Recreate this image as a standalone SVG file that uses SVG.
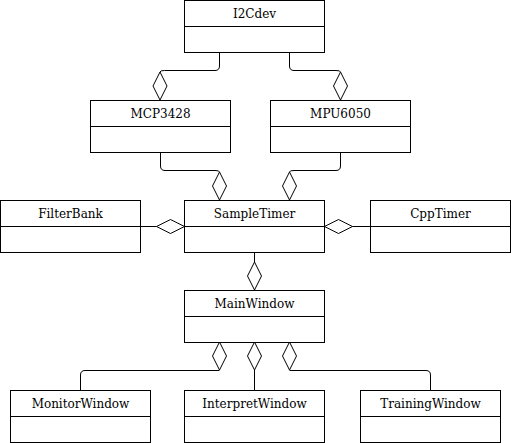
<svg xmlns="http://www.w3.org/2000/svg" width="511" height="443" viewBox="0 0 511 443">
<style>
rect{fill:#fff;stroke:#000;stroke-width:1}
.d{stroke:#000;stroke-width:1}
text{font-family:"DejaVu Serif",serif;font-size:12px;text-anchor:middle;fill:#000}
.c path{fill:none;stroke:#000;stroke-width:1}
.c path.dm{fill:#fff}
</style>
<rect x="0" y="0" width="511" height="443" style="stroke:none"/>
<g class="c" id="connectors">
<path d="M219.5 52V66Q219.5 70.5 215 70.5H164.5Q160 70.5 160 72"/>
<path class="dm" d="M160 72L167 86L160 100L153 86Z"/>
<path d="M289.5 52V66Q289.5 70.5 294 70.5H336Q340.5 70.5 340.5 72"/>
<path class="dm" d="M340.5 72L347.5 86L340.5 100L333.5 86Z"/>
<path d="M160.5 152V166Q160.5 170.5 165 170.5H215Q219.5 170.5 219.5 172"/>
<path class="dm" d="M219.5 172L226.5 186L219.5 200L212.5 186Z"/>
<path d="M340.5 152V166Q340.5 170.5 336 170.5H294Q289.5 170.5 289.5 172"/>
<path class="dm" d="M289.5 172L296.5 186L289.5 200L282.5 186Z"/>
<path d="M140.5 226.5H156.5"/>
<path class="dm" d="M184.5 226.5L170.5 233.5L156.5 226.5L170.5 219.5Z"/>
<path d="M370.5 226.5H352.5"/>
<path class="dm" d="M324.5 226.5L338.5 219.5L352.5 226.5L338.5 233.5Z"/>
<path d="M254.5 252V262"/>
<path class="dm" d="M254.5 290L261.5 276L254.5 262L247.5 276Z"/>
<path class="dm" d="M219.5 342L226.5 356L219.5 370L212.5 356Z"/>
<path d="M219.5 370.5H85Q80.5 370.5 80.5 375V390"/>
<path class="dm" d="M254.5 342L261.5 356L254.5 370L247.5 356Z"/>
<path d="M254.5 370V390"/>
<path class="dm" d="M289.5 342L296.5 356L289.5 370L282.5 356Z"/>
<path d="M289.5 370.5H426Q430.5 370.5 430.5 375V390"/>
</g>
<g id="I2Cdev"><rect x="184.5" y="0.5" width="140" height="52"/><path class="d" d="M184.5 26.5H324.5"/><text x="254.5" y="18">I2Cdev</text></g>
<g id="MCP3428"><rect x="90.5" y="100.5" width="140" height="52"/><path class="d" d="M90.5 126.5H230.5"/><text x="160.5" y="118">MCP3428</text></g>
<g id="MPU6050"><rect x="270.5" y="100.5" width="140" height="52"/><path class="d" d="M270.5 126.5H410.5"/><text x="340.5" y="118">MPU6050</text></g>
<g id="FilterBank"><rect x="0.5" y="200.5" width="140" height="52"/><path class="d" d="M0.5 226.5H140.5"/><text x="70.5" y="218">FilterBank</text></g>
<g id="SampleTimer"><rect x="184.5" y="200.5" width="140" height="52"/><path class="d" d="M184.5 226.5H324.5"/><text x="254.5" y="218">SampleTimer</text></g>
<g id="CppTimer"><rect x="370.5" y="200.5" width="140" height="52"/><path class="d" d="M370.5 226.5H510.5"/><text x="440.5" y="218">CppTimer</text></g>
<g id="MainWindow"><rect x="184.5" y="290.5" width="140" height="52"/><path class="d" d="M184.5 316.5H324.5"/><text x="254.5" y="308">MainWindow</text></g>
<g id="MonitorWindow"><rect x="10.5" y="390.5" width="140" height="52"/><path class="d" d="M10.5 416.5H150.5"/><text x="80.5" y="408">MonitorWindow</text></g>
<g id="InterpretWindow"><rect x="184.5" y="390.5" width="140" height="52"/><path class="d" d="M184.5 416.5H324.5"/><text x="254.5" y="408">InterpretWindow</text></g>
<g id="TrainingWindow"><rect x="360.5" y="390.5" width="140" height="52"/><path class="d" d="M360.5 416.5H500.5"/><text x="430.5" y="408">TrainingWindow</text></g>
</svg>
